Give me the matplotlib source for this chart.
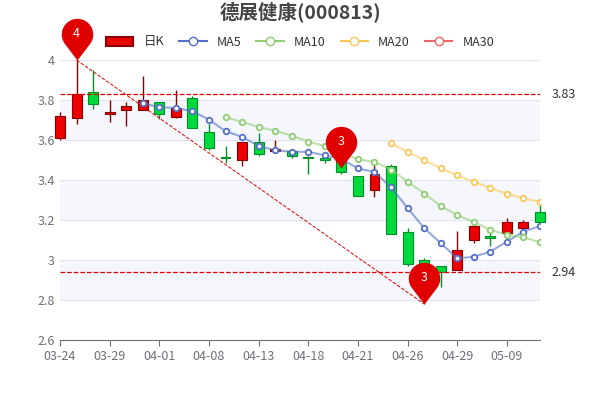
import numpy as np
import pandas as pd
import matplotlib.pyplot as plt
from matplotlib.lines import Line2D
from matplotlib.patches import Patch
from matplotlib.path import Path

plt.rcParams['font.family'] = ['Noto Sans CJK SC', 'DejaVu Sans']

dates = ['03-24', '03-25', '03-28', '03-29', '03-30', '03-31', '04-01', '04-06', '04-07', '04-08',
         '04-11', '04-12', '04-13', '04-14', '04-15', '04-18', '04-19', '04-20', '04-21', '04-22',
         '04-25', '04-26', '04-27', '04-28', '04-29', '05-05', '05-06', '05-09', '05-10', '05-11']
opens = [3.61, 3.71, 3.84, 3.73, 3.75, 3.75, 3.79, 3.715, 3.81, 3.64,
         3.515, 3.50, 3.59, 3.545, 3.546, 3.515, 3.51, 3.50, 3.42, 3.35,
         3.47, 3.14, 3.00, 2.97, 2.95, 3.10, 3.12, 3.135, 3.16, 3.24]
closes = [3.72, 3.83, 3.78, 3.74, 3.77, 3.80, 3.73, 3.76, 3.66, 3.56,
          3.51, 3.59, 3.53, 3.555, 3.52, 3.51, 3.50, 3.44, 3.32, 3.43,
          3.13, 2.98, 2.94, 2.94, 3.05, 3.17, 3.11, 3.19, 3.19, 3.19]
highs = [3.74, 4.00, 3.95, 3.80, 3.79, 3.92, 3.79, 3.85, 3.82, 3.68,
         3.57, 3.59, 3.635, 3.60, 3.55, 3.52, 3.535, 3.52, 3.42, 3.475,
         3.48, 3.16, 3.01, 2.97, 3.145, 3.18, 3.14, 3.21, 3.20, 3.285]
lows = [3.60, 3.68, 3.755, 3.69, 3.67, 3.75, 3.705, 3.71, 3.66, 3.55,
        3.485, 3.47, 3.52, 3.54, 3.51, 3.43, 3.485, 3.43, 3.32, 3.315,
        3.13, 2.97, 2.78, 2.865, 2.95, 3.085, 3.07, 3.135, 3.16, 3.19]
tick_labels = ['03-24', '03-29', '04-01', '04-08', '04-13', '04-18', '04-21', '04-26', '04-29', '05-09']
ma_windows = [5, 10, 20]
ma_colors = ['#5470c6', '#91cc75', '#fac858']
mark_lines = [3.83, 2.94]
pin_idx = [1, 17, 22]
pin_vals = [4.00, 3.46, 2.78]
pin_labels = ['4', '3', '3']

x = np.arange(len(dates))
fig = plt.figure(figsize=(6, 4), dpi=100)
ax = fig.add_axes([0.1, 0.15, 0.8, 0.7])

# alternating bands
for lo in [2.6, 3.0, 3.4, 3.8]:
    ax.axhspan(lo + 0.2, lo + 0.4, color='#f5f7fc', zorder=0)
for yv in np.arange(2.6, 4.01, 0.2):
    ax.axhline(yv, color='#e0e6f1', lw=0.8, zorder=0)

up_c, dn_c = '#ec0000', '#00da3c'
for i in x:
    up = closes[i] >= opens[i]
    col = up_c if up else dn_c
    edge = '#8a0000' if up else '#008f28'
    ax.vlines(i, lows[i], highs[i], color=edge, lw=1, zorder=2, clip_on=False)
    b = min(opens[i], closes[i])
    h = max(abs(closes[i] - opens[i]), 0.005)
    ax.bar(i, h, bottom=b, width=0.6, color=col, edgecolor=edge, lw=0.8, zorder=3, clip_on=False)

s = pd.Series(closes)
for w, c in zip(ma_windows, ma_colors):
    ma = s.rolling(w).mean().where(s.index >= w)
    ax.plot(x, ma, color=c, lw=1.5, alpha=0.6, zorder=4)
    ax.plot(x, ma, 'o', ms=4, mfc='white', mec=c, mew=1.3, zorder=5)

for v in mark_lines:
    ax.axhline(v, color='#e00000', ls='--', lw=0.9, zorder=4)
    ax.text(len(dates) - 0.3, v, f'{v:.2f}', va='center', fontsize=9, color='#333333')

ax.plot([pin_idx[0], pin_idx[2]], [pin_vals[0], pin_vals[2]], color='#e00000', ls='--', lw=0.7, zorder=4)

# teardrop pin: tip at origin, circle above
cy = 1.65
a = np.degrees(np.arcsin(1 / cy))
th = np.radians(np.linspace(-90 + (90 - a), 270 - (90 - a), 60))
verts = [(0, 0)] + list(zip(np.cos(th), cy + np.sin(th))) + [(0, 0)]
pin_path = Path(verts, closed=True)
for xi, yv, lab in zip(pin_idx, pin_vals, pin_labels):
    ax.plot([xi], [yv], marker=pin_path, ms=60, color='#e00000', mew=0, zorder=6, clip_on=False)
    ax.annotate(lab, (xi, yv), xytext=(0, 19), textcoords='offset points', ha='center', va='center',
                color='white', fontsize=9, zorder=7, annotation_clip=False)

ax.set_xlim(0, len(dates) - 1)
ax.set_ylim(2.6, 4.0)
ax.set_yticks(np.arange(2.6, 4.01, 0.2))
ax.set_yticklabels(['2.6', '2.8', '3', '3.2', '3.4', '3.6', '3.8', '4'])
ax.set_xticks([dates.index(t) for t in tick_labels])
ax.set_xticklabels(tick_labels)
ax.tick_params(colors='#6e7079', labelsize=9, length=4)
ax.tick_params(axis='y', length=0)
for sp in ['top', 'right', 'left']:
    ax.spines[sp].set_visible(False)
ax.spines['bottom'].set_color('#6e7079')

fig.text(0.5, 0.968, '德展健康(000813)', ha='center', va='center', fontsize=14,
         color='#464646', fontweight='bold')

handles = [Patch(fc=up_c, ec='#8a0000', lw=1.5)]
handles += [Line2D([], [], color=c, marker='o', mfc='white', mec=c, lw=1.5) for c in ma_colors]
handles += [Line2D([], [], color='#ee6666', marker='o', mfc='white', mec='#ee6666', lw=1.5)]
fig.legend(handles, ['日K', 'MA5', 'MA10', 'MA20', 'MA30'], loc='center', bbox_to_anchor=(0.5, 0.895),
           ncol=5, frameon=False, fontsize=9, handlelength=2.2, columnspacing=1.2, labelcolor='#333333')

fig.savefig('out.png')
